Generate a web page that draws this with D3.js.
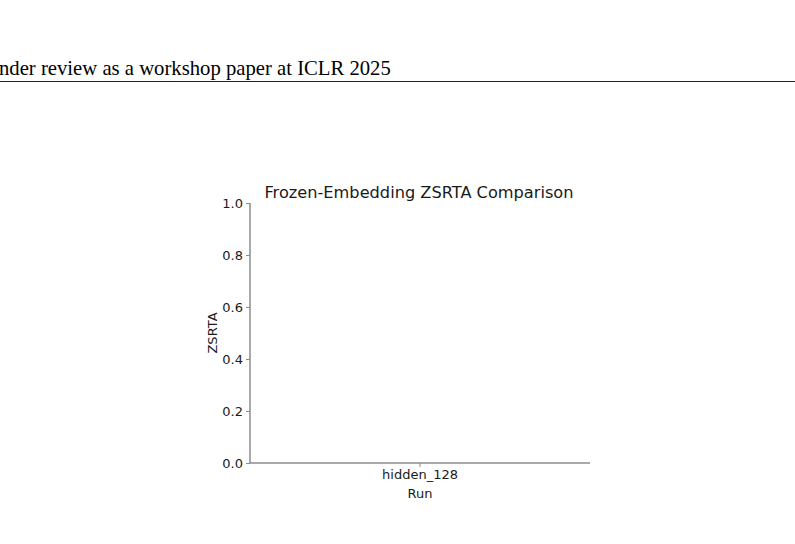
<!DOCTYPE html>
<html><head><meta charset="utf-8">
<script src="https://cdn.jsdelivr.net/npm/d3@7"></script>
<style>html,body{margin:0;padding:0;background:#fff;}svg{display:block;}</style>
</head><body>
<script>
const categories = ["hidden_128"];
const values = [0];
const yTicks = [0, 0.2, 0.4, 0.6, 0.8, 1.0];
const title = "Frozen-Embedding ZSRTA Comparison";
const xLabel = "Run";
const yLabel = "ZSRTA";
const header = "nder review as a workshop paper at ICLR 2025";

const W = 795, H = 544;
const m = {left: 250, right: 795 - 590, top: 203, bottom: 544 - 463};
const svg = d3.select("body").append("svg").attr("width", W).attr("height", H);

svg.append("text").attr("x", -1).attr("y", 75)
  .attr("font-family", "Liberation Serif, Times New Roman, serif").attr("font-size", 20.7)
  .attr("fill", "#000").text(header);
svg.append("line").attr("x1", 0).attr("x2", W).attr("y1", 81.5).attr("y2", 81.5)
  .attr("stroke", "#222").attr("stroke-width", 1);

const x = d3.scaleBand().domain(categories).range([m.left, W - m.right]).padding(0.2);
const y = d3.scaleLinear().domain([0, 1]).range([H - m.bottom, m.top]);

const font = "DejaVu Sans, sans-serif";
const axisColor = "#8c8c8c";

svg.append("g").selectAll("rect").data(values).join("rect")
  .attr("x", (d, i) => x(categories[i])).attr("width", x.bandwidth())
  .attr("y", d => y(d)).attr("height", d => y(0) - y(d)).attr("fill", "#4c72b0");

const gy = svg.append("g").attr("transform", `translate(${m.left},0)`)
  .call(d3.axisLeft(y).tickValues(yTicks).tickFormat(d3.format(".1f")).tickSize(4).tickPadding(3));
const gx = svg.append("g").attr("transform", `translate(0,${H - m.bottom})`)
  .call(d3.axisBottom(x).tickSize(4).tickPadding(3));
[gx, gy].forEach(g => {
  g.select(".domain").attr("stroke", axisColor).attr("stroke-width", 1.5);
  g.selectAll(".tick line").attr("stroke", axisColor).attr("stroke-width", 1);
  g.selectAll(".tick text").attr("font-family", font).attr("font-size", 13).attr("fill", "#1a1a1a");
});
gy.select(".domain").attr("d", `M0,${m.top}V${H - m.bottom}`);
gx.select(".domain").attr("d", `M${m.left},0H${W - m.right}`);

svg.append("text").attr("x", (m.left + W - m.right) / 2 - 1).attr("y", 198)
  .attr("text-anchor", "middle").attr("font-family", font).attr("font-size", 16.2)
  .attr("fill", "#1a1a1a").text(title);
svg.append("text").attr("x", (m.left + W - m.right) / 2).attr("y", 498)
  .attr("text-anchor", "middle").attr("font-family", font).attr("font-size", 13)
  .attr("fill", "#1a1a1a").text(xLabel);
svg.append("text").attr("transform", `translate(217,${(m.top + H - m.bottom) / 2}) rotate(-90)`)
  .attr("text-anchor", "middle").attr("font-family", font).attr("font-size", 13)
  .attr("fill", "#1a1a1a").text(yLabel);
</script>
</body></html>
